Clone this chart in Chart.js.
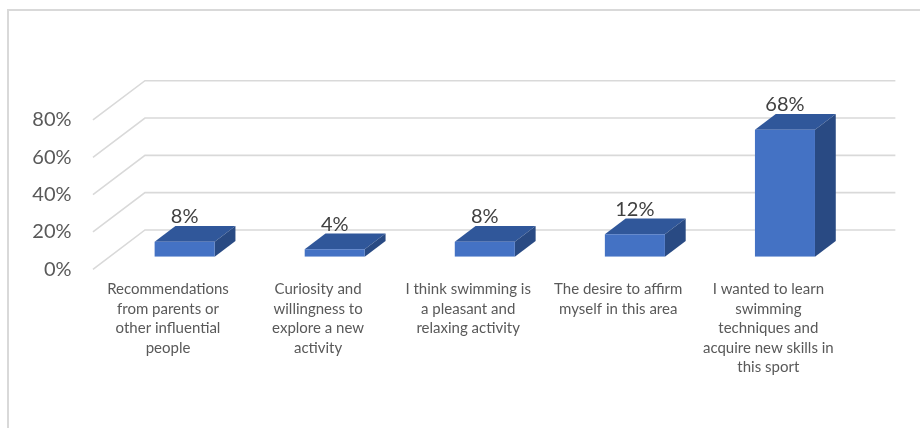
<!DOCTYPE html>
<html>
<head>
<meta charset="utf-8">
<script src="https://cdn.jsdelivr.net/npm/chart.js@4.4.1/dist/chart.umd.min.js"></script>
<style>
  html, body { margin: 0; padding: 0; background: #fff; }
  #wrap { width: 920px; height: 428px; }
</style>
</head>
<body>
<div id="wrap"><canvas id="chart" width="920" height="428"></canvas></div>
<script>
const categories = [
  ["Recommendations", "from parents or", "other influential", "people"],
  ["Curiosity and", "willingness to", "explore a new", "activity"],
  ["I think swimming is", "a pleasant and", "relaxing activity"],
  ["The desire to affirm", "myself in this area"],
  ["I wanted to learn", "swimming", "techniques and", "acquire new skills in", "this sport"]
];
const shares = [8, 4, 8, 12, 68];
const yTicks = [0, 20, 40, 60, 80];

// depth vector of the 3d box, split into floor front / bar back / back wall
const DEPTH_X = 52, DEPTH_Y = -39.3;
const FLOOR = -0.32, BAR_BACK = 0.40, WALL = 0.68;

const frontColor = "#4472C4";
const topColor = "#30579A";
const sideColor = "#294A83";
const gridColor = "#D9D9D9";

const frame = {
  id: "frame",
  beforeDraw(chart) {
    const ctx = chart.ctx;
    ctx.save();
    ctx.strokeStyle = gridColor;
    ctx.lineWidth = 2;
    ctx.beginPath();
    ctx.moveTo(8, 428);
    ctx.lineTo(8, 10);
    ctx.lineTo(920, 10);
    ctx.stroke();
    ctx.restore();
  }
};

const box3d = {
  id: "box3d",
  beforeDatasetsDraw(chart) {
    const ctx = chart.ctx;
    const area = chart.chartArea;
    const y = chart.scales.y;
    ctx.save();

    // wall gridlines: diagonal along the side wall, then across the back wall
    ctx.strokeStyle = gridColor;
    ctx.lineWidth = 1.6;
    yTicks.forEach(function (v) {
      const py = y.getPixelForValue(v);
      ctx.beginPath();
      ctx.moveTo(area.left + FLOOR * DEPTH_X, py + FLOOR * DEPTH_Y);
      ctx.lineTo(area.left + WALL * DEPTH_X, py + WALL * DEPTH_Y);
      ctx.lineTo(area.right + WALL * DEPTH_X, py + WALL * DEPTH_Y);
      ctx.stroke();
    });

    // top and side faces of each bar
    const dx = BAR_BACK * DEPTH_X, dy = BAR_BACK * DEPTH_Y;
    chart.getDatasetMeta(0).data.forEach(function (bar) {
      const p = bar.getProps(["x", "y", "base", "width"], true);
      const x0 = p.x - p.width / 2, x1 = p.x + p.width / 2;
      ctx.fillStyle = topColor;
      ctx.beginPath();
      ctx.moveTo(x0, p.y);
      ctx.lineTo(x1, p.y);
      ctx.lineTo(x1 + dx, p.y + dy);
      ctx.lineTo(x0 + dx, p.y + dy);
      ctx.closePath();
      ctx.fill();
      ctx.fillStyle = sideColor;
      ctx.beginPath();
      ctx.moveTo(x1, p.y);
      ctx.lineTo(x1 + dx, p.y + dy);
      ctx.lineTo(x1 + dx, p.base + dy);
      ctx.lineTo(x1, p.base);
      ctx.closePath();
      ctx.fill();
    });
    ctx.restore();
  },
  afterDatasetsDraw(chart) {
    const ctx = chart.ctx;
    ctx.save();
    ctx.fillStyle = "#404040";
    ctx.font = "20px Lato";
    ctx.textAlign = "center";
    ctx.textBaseline = "middle";
    chart.getDatasetMeta(0).data.forEach(function (bar, i) {
      const p = bar.getProps(["x", "y"], true);
      ctx.fillText(shares[i] + "%", p.x, p.y - 25);
    });
    ctx.restore();
  }
};

new Chart(document.getElementById("chart"), {
  type: "bar",
  data: {
    labels: categories,
    datasets: [{
      data: shares,
      backgroundColor: frontColor,
      borderWidth: 0,
      barPercentage: 0.4,
      categoryPercentage: 1
    }]
  },
  options: {
    responsive: false,
    animation: false,
    events: [],
    layout: { padding: { left: 0, right: 60, top: 107.4, bottom: 0 } },
    plugins: { legend: { display: false }, tooltip: { enabled: false } },
    scales: {
      x: {
        grid: { display: false, drawTicks: false },
        border: { display: false },
        ticks: {
          autoSkip: false,
          maxRotation: 0,
          padding: 23,
          labelOffset: FLOOR * DEPTH_X,
          color: "#595959",
          font: { family: "Lato", size: 15, lineHeight: 1.3 }
        },
        afterFit(scale) { scale.height = 171.3; }
      },
      y: {
        min: 0,
        max: 80,
        grid: { display: false, drawTicks: false },
        border: { display: false },
        ticks: {
          stepSize: 20,
          padding: 38,
          labelOffset: FLOOR * DEPTH_Y,
          color: "#595959",
          font: { family: "Lato", size: 20 },
          callback: function (v) { return v + "%"; }
        },
        afterFit(scale) { scale.width = 109.6; }
      }
    }
  },
  plugins: [frame, box3d]
});
</script>
</body>
</html>
